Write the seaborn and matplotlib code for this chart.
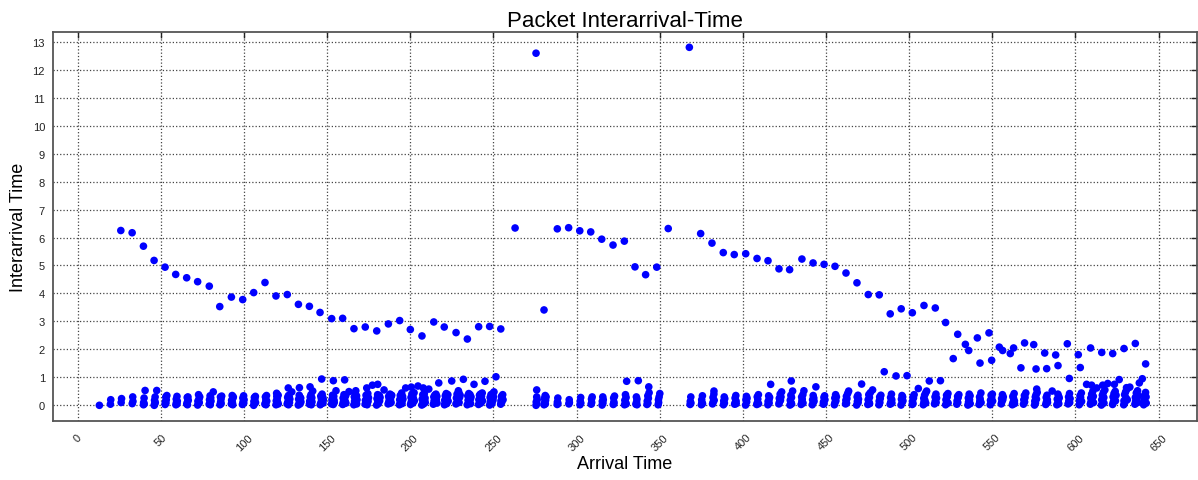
import numpy as np
import pandas as pd
import matplotlib
matplotlib.use('Agg')
import matplotlib.pyplot as plt
import seaborn as sns

# Isolated (large) interarrival values: arrival time, interarrival time
spike_t = [25.9, 32.7, 39.5, 45.9, 52.5, 58.9, 65.5, 72.1, 79.1, 85.4, 92.4, 99.2,
           105.8, 112.6, 119.2, 126.0, 132.7, 139.3, 145.7, 152.7, 159.3, 166.1, 172.9,
           179.8, 186.8, 193.6, 200.0, 207.0, 214.1, 220.4, 227.5, 234.3, 241.1, 247.7,
           254.4, 263.0, 275.6, 280.4, 288.4, 295.2, 301.9, 308.5, 315.1, 321.9, 328.7,
           335.1, 341.5, 348.2, 355.1, 367.8, 374.6, 381.4, 388.2, 394.8, 401.7, 408.5,
           415.1, 421.7, 428.1, 435.5, 442.2, 448.8, 455.4, 462.0, 468.6, 475.4, 482.0,
           488.6, 495.2, 501.9, 508.9, 515.7, 521.9, 529.2, 533.8, 535.8, 526.5, 541.0,
           542.6, 548.0, 549.6, 554.2, 556.2, 560.8, 562.8, 567.2, 569.4, 574.9, 576.3,
           581.5, 582.7, 588.1, 589.5, 595.1, 596.3, 601.7, 602.9, 609.1, 615.8, 622.4,
           629.2, 636.0, 642.2]
spike_y = [6.25, 6.17, 5.69, 5.18, 4.94, 4.68, 4.56, 4.42, 4.26, 3.53, 3.87, 3.78,
           4.03, 4.39, 3.91, 3.96, 3.61, 3.54, 3.32, 3.10, 3.11, 2.74, 2.80,
           2.66, 2.91, 3.03, 2.71, 2.48, 2.98, 2.80, 2.60, 2.37, 2.81, 2.82,
           2.73, 6.34, 12.59, 3.41, 6.31, 6.35, 6.24, 6.20, 5.94, 5.73, 5.87,
           4.95, 4.67, 4.94, 6.32, 12.80, 6.14, 5.80, 5.46, 5.39, 5.42, 5.25,
           5.17, 4.88, 4.85, 5.23, 5.09, 5.04, 4.97, 4.73, 4.38, 3.96, 3.95,
           3.27, 3.45, 3.31, 3.57, 3.48, 2.96, 2.54, 2.18, 1.96, 1.67, 2.41,
           1.51, 2.59, 1.61, 2.08, 1.96, 1.85, 2.05, 1.34, 2.23, 2.17, 1.30,
           1.87, 1.31, 1.80, 1.42, 2.20, 0.96, 1.81, 1.35, 2.05, 1.89, 1.85,
           2.03, 2.21, 1.48]

# Medium interarrival values sitting just above the bursts
mid_t = [40.5, 47.5, 81.5, 119.6, 126.6, 128.7, 133.3, 139.7, 141.3, 146.7, 153.7, 155.3,
         160.5, 163.1, 167.2, 173.8, 177.2, 180.4, 184.2, 197.2, 200.6, 204.6, 207.8,
         211.1, 217.1, 224.9, 228.9, 231.9, 238.3, 244.9, 251.5, 250.3, 276.0, 330.1,
         337.1, 343.4, 382.6, 416.7, 423.3, 429.1, 429.9, 436.7, 443.9, 463.6, 471.4,
         478.0, 485.0, 492.1, 498.7, 505.5, 510.5, 512.1, 518.8, 576.7, 586.0, 606.7,
         609.7, 612.8, 616.4, 619.4, 623.4, 626.3, 630.7, 632.7, 638.4, 640.2]
mid_y = [0.53, 0.53, 0.48, 0.43, 0.62, 0.48, 0.63, 0.66, 0.51, 0.94, 0.88, 0.52,
         0.91, 0.49, 0.52, 0.62, 0.72, 0.75, 0.55, 0.62, 0.65, 0.69, 0.62,
         0.58, 0.80, 0.87, 0.52, 0.93, 0.75, 0.86, 1.02, 0.48, 0.55, 0.86,
         0.88, 0.66, 0.51, 0.75, 0.48, 0.87, 0.51, 0.52, 0.66, 0.51, 0.76,
         0.55, 1.20, 1.05, 1.06, 0.60, 0.51, 0.87, 0.88, 0.58, 0.51, 0.75,
         0.72, 0.62, 0.72, 0.78, 0.75, 0.92, 0.63, 0.65, 0.80, 0.95]

# Packet bursts: start time and the small interarrival values inside each burst
burst_t = [13.0, 19.6, 26.0, 32.7, 39.5, 46.0, 52.5, 59.0, 65.5, 72.1, 79.0, 85.5,
           92.3, 99.0, 105.8, 112.5, 119.2, 125.9, 132.6, 139.3, 145.8, 152.6, 159.3,
           166.0, 172.8, 179.7, 186.6, 193.4, 200.1, 206.9, 213.8, 220.5, 227.4, 234.2,
           241.0, 247.7, 254.3, 275.6, 280.4, 288.3, 295.3, 302.0, 308.7, 315.3, 322.0,
           328.8, 335.6, 342.3, 349.0, 368.2, 375.0, 381.7, 388.3, 395.0, 401.6, 408.3,
           415.0, 421.6, 428.3, 435.0, 441.7, 448.3, 455.0, 461.7, 468.4, 475.1, 481.8,
           488.5, 495.1, 501.8, 508.5, 515.2, 521.9, 528.6, 535.3, 542.0, 548.7, 555.3,
           562.0, 568.7, 575.4, 582.1, 588.8, 595.5, 602.2, 608.9, 615.6, 622.3, 629.0,
           635.7, 641.0]
burst_vals = [
    [0.0], [0.04, 0.2], [0.1, 0.24], [0.06, 0.3, 0.14], [0.02, 0.1, 0.26, 0.05],
    [0.0, 0.18, 0.04, 0.3, 0.1],
    [0.03, 0.12, 0.3, 0.08, 0.2, 0.35], [0.02, 0.22, 0.1, 0.32, 0.05, 0.15],
    [0.05, 0.28, 0.12, 0.02, 0.3, 0.18], [0.01, 0.15, 0.38, 0.08, 0.24, 0.1, 0.3],
    [0.04, 0.2, 0.34, 0.1, 0.02, 0.27, 0.15], [0.02, 0.3, 0.12, 0.22, 0.06, 0.33],
    [0.05, 0.18, 0.35, 0.1, 0.25, 0.02, 0.3], [0.03, 0.26, 0.12, 0.34, 0.08, 0.2],
    [0.0, 0.14, 0.28, 0.06, 0.22, 0.32, 0.1], [0.04, 0.3, 0.1, 0.2, 0.02, 0.35, 0.15],
    [0.02, 0.16, 0.32, 0.08, 0.25, 0.12, 0.36, 0.05],
    [0.05, 0.28, 0.12, 0.35, 0.02, 0.2, 0.3, 0.1, 0.22],
    [0.01, 0.22, 0.36, 0.1, 0.3, 0.05, 0.18, 0.26, 0.12],
    [0.04, 0.15, 0.3, 0.08, 0.38, 0.2, 0.02, 0.27, 0.12],
    [0.02, 0.33, 0.1, 0.24, 0.06, 0.4, 0.16, 0.28, 0.08, 0.2],
    [0.05, 0.2, 0.36, 0.12, 0.28, 0.03, 0.32, 0.18, 0.1],
    [0.03, 0.26, 0.12, 0.38, 0.06, 0.22, 0.3, 0.14, 0.35, 0.08],
    [0.02, 0.3, 0.15, 0.4, 0.08, 0.25, 0.12, 0.34, 0.05, 0.2],
    [0.04, 0.18, 0.36, 0.1, 0.3, 0.22, 0.02, 0.42, 0.14, 0.27],
    [0.01, 0.24, 0.38, 0.12, 0.3, 0.06, 0.2, 0.35, 0.16, 0.28],
    [0.05, 0.32, 0.14, 0.25, 0.4, 0.08, 0.2, 0.3, 0.1, 0.36],
    [0.02, 0.2, 0.35, 0.1, 0.28, 0.44, 0.15, 0.06, 0.32, 0.22],
    [0.03, 0.28, 0.12, 0.4, 0.2, 0.34, 0.08, 0.25, 0.45, 0.16],
    [0.01, 0.22, 0.38, 0.14, 0.3, 0.05, 0.42, 0.18, 0.26, 0.1],
    [0.04, 0.3, 0.16, 0.36, 0.1, 0.25, 0.4, 0.2, 0.32, 0.08],
    [0.02, 0.18, 0.34, 0.12, 0.42, 0.26, 0.06, 0.3, 0.38, 0.15],
    [0.05, 0.26, 0.4, 0.14, 0.32, 0.2, 0.45, 0.1, 0.28, 0.36],
    [0.02, 0.34, 0.18, 0.42, 0.1, 0.28, 0.38, 0.22, 0.06, 0.3],
    [0.03, 0.2, 0.36, 0.14, 0.4, 0.26, 0.08, 0.32, 0.44, 0.16],
    [0.01, 0.28, 0.12, 0.38, 0.22, 0.34, 0.06, 0.42, 0.18, 0.3],
    [0.04, 0.16, 0.32, 0.1, 0.26, 0.38, 0.2],
    [0.0, 0.12, 0.3, 0.06, 0.2],
    [0.02, 0.25, 0.1, 0.35, 0.05, 0.18, 0.3],
    [0.03, 0.12, 0.26, 0.06], [0.05, 0.2, 0.1], [0.02, 0.15, 0.28, 0.08],
    [0.04, 0.22, 0.1, 0.3], [0.01, 0.14, 0.3, 0.08, 0.2], [0.03, 0.26, 0.12, 0.06, 0.33],
    [0.02, 0.18, 0.38, 0.1, 0.28, 0.05], [0.04, 0.3, 0.12, 0.22, 0.02],
    [0.03, 0.15, 0.34, 0.08, 0.25, 0.45], [0.02, 0.2, 0.1, 0.3, 0.42],
    [0.03, 0.14, 0.3, 0.08], [0.02, 0.2, 0.1, 0.34, 0.06], [0.05, 0.28, 0.12, 0.4, 0.18],
    [0.02, 0.16, 0.3, 0.08, 0.24], [0.04, 0.26, 0.1, 0.35, 0.15, 0.06],
    [0.01, 0.2, 0.32, 0.12, 0.25], [0.03, 0.3, 0.1, 0.22, 0.38, 0.06],
    [0.02, 0.14, 0.34, 0.2, 0.08, 0.28], [0.05, 0.25, 0.12, 0.4, 0.18, 0.3],
    [0.01, 0.18, 0.36, 0.1, 0.28, 0.05], [0.03, 0.3, 0.14, 0.22, 0.38, 0.08],
    [0.02, 0.2, 0.35, 0.1, 0.26, 0.15], [0.04, 0.12, 0.28, 0.06, 0.34, 0.2],
    [0.02, 0.26, 0.1, 0.38, 0.16, 0.3], [0.05, 0.18, 0.32, 0.08, 0.24, 0.42],
    [0.01, 0.3, 0.14, 0.36, 0.1, 0.22], [0.03, 0.2, 0.38, 0.12, 0.28, 0.06, 0.45],
    [0.02, 0.15, 0.3, 0.1, 0.24, 0.36], [0.04, 0.28, 0.12, 0.4, 0.2, 0.08],
    [0.01, 0.22, 0.35, 0.1, 0.3, 0.16], [0.03, 0.14, 0.3, 0.06, 0.26, 0.38],
    [0.02, 0.25, 0.12, 0.36, 0.18, 0.44, 0.08], [0.05, 0.3, 0.15, 0.4, 0.1, 0.26],
    [0.02, 0.2, 0.36, 0.12, 0.3, 0.42, 0.08], [0.04, 0.16, 0.32, 0.1, 0.28, 0.38],
    [0.01, 0.26, 0.12, 0.4, 0.2, 0.34, 0.06], [0.03, 0.3, 0.14, 0.22, 0.44, 0.1],
    [0.02, 0.18, 0.36, 0.08, 0.28, 0.4, 0.15], [0.05, 0.24, 0.12, 0.38, 0.2, 0.3],
    [0.02, 0.32, 0.1, 0.26, 0.42, 0.16, 0.06], [0.04, 0.2, 0.35, 0.12, 0.28, 0.44],
    [0.01, 0.15, 0.3, 0.08, 0.38, 0.22, 0.46], [0.03, 0.28, 0.12, 0.36, 0.2, 0.1],
    [0.02, 0.22, 0.4, 0.14, 0.32, 0.06, 0.26], [0.05, 0.3, 0.16, 0.42, 0.1, 0.24],
    [0.02, 0.18, 0.34, 0.08, 0.28, 0.44, 0.14],
    [0.04, 0.26, 0.12, 0.4, 0.2, 0.5, 0.32, 0.1],
    [0.01, 0.2, 0.36, 0.14, 0.46, 0.28, 0.08, 0.55],
    [0.03, 0.3, 0.12, 0.42, 0.22, 0.5, 0.16, 0.36],
    [0.02, 0.16, 0.38, 0.1, 0.48, 0.26, 0.58, 0.2],
    [0.04, 0.28, 0.14, 0.44, 0.22, 0.52, 0.1, 0.34],
    [0.02, 0.2, 0.36, 0.12, 0.46, 0.3, 0.08],
]

x_ticks = list(range(0, 651, 50))
y_ticks = list(range(0, 14))

# arrival time of each packet inside a burst = burst start + running sum of its interarrivals
burst_x, burst_y = [], []
for t0, vals in zip(burst_t, burst_vals):
    burst_x.extend(t0 + np.cumsum(vals))
    burst_y.extend(vals)

df = pd.DataFrame({
    'arrival': list(spike_t) + list(mid_t) + burst_x,
    'interarrival': list(spike_y) + list(mid_y) + burst_y,
})

sns.set_style('white')
plt.rcParams['font.family'] = ['Liberation Sans', 'DejaVu Sans']
plt.rcParams['text.color'] = 'black'
plt.rcParams['axes.labelcolor'] = 'black'

fig = plt.figure(figsize=(11.98, 4.81), dpi=100)
ax = fig.add_axes([0.0445, 0.1233, 0.9544, 0.8088])

sns.scatterplot(data=df, x='arrival', y='interarrival', ax=ax,
                color='#0000ff', s=30, linewidth=0, edgecolor='none', zorder=3)

ax.set_xlim(-14.7, 672.9)
ax.set_ylim(-0.55, 13.36)
ax.set_xticks(x_ticks)
ax.set_yticks(y_ticks)
ax.set_xticklabels([str(v) for v in x_ticks], rotation=45, ha='center')
ax.grid(True, linestyle=':', color='#444444', linewidth=0.9)
ax.tick_params(direction='in', length=4, width=1, colors='#222222',
               labelsize=8, top=True, right=True, pad=6)
ax.tick_params(axis='x', pad=8)
for sp in ax.spines.values():
    sp.set_color('#555555')
    sp.set_linewidth(1.3)

ax.set_title('Packet Interarrival-Time', fontsize=16, pad=4, color='black')
ax.set_xlabel('Arrival Time', fontsize=13, labelpad=2)
ax.set_ylabel('Interarrival Time', fontsize=13, labelpad=4)

fig.savefig('out.png', dpi=100)
